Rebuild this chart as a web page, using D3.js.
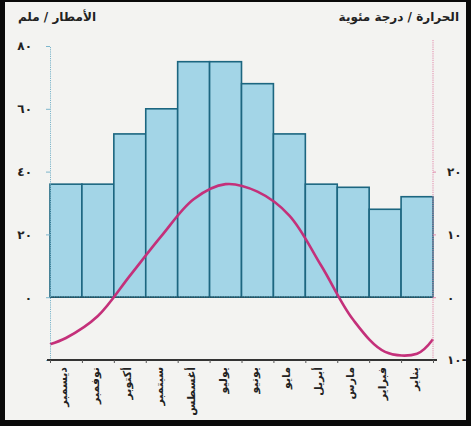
<!DOCTYPE html>
<html lang="ar">
<head>
<meta charset="UTF-8">
<title>Climate chart</title>
<style>
body { margin: 0; background: #000; }
text { font-family: "DejaVu Sans", sans-serif; font-weight: bold; fill: #222; }
.axis text { font-size: 12px; }
</style>
</head>
<body>
<script src="https://d3js.org/d3.v7.min.js"></script>
<script>
// months from left to right (read right-to-left: January at the right)
var months = ["ديسمبر", "نوفمبر", "أكتوبر", "سبتمبر", "أغسطس", "يوليو", "يونيو", "مايو", "أبريل", "مارس", "فبراير", "يناير"];
// rainfall, mm
var rain = [36, 36, 52, 60, 75, 75, 68, 52, 36, 35, 28, 32];
// mean temperature, degrees C
var temp = [-6.5, -3, 3.4, 9.8, 15.6, 18, 16.8, 13, 5, -3.6, -8.7, -9];
// curve values where it meets the left and right axes
var tempEdges = [-7.5, -6.7];
var rainTicks = [0, 20, 40, 60, 80];
var tempTicks = [-10, 0, 10, 20];

var width = 471, height = 426;
var mLeft = 50, mRight = 433, mTop = 46, mBottom = 360;

var svg = d3.select("body").append("svg")
    .attr("width", width)
    .attr("height", height)
    .style("display", "block");

// black frame + paper
svg.append("rect").attr("width", width).attr("height", height).attr("fill", "#0a0a0a");
svg.append("rect").attr("x", 5).attr("y", 2).attr("width", 461).attr("height", 418).attr("fill", "#f3f3f1");

var x = d3.scaleBand().domain(months).range([mLeft, mRight]).padding(0);
var xi = d3.scaleLinear().domain([0, 12]).range([mLeft, mRight]);
var yRain = d3.scaleLinear().domain([-20, 80]).range([mBottom, mTop]);
var yTemp = d3.scaleLinear().domain([-10, 40]).range([mBottom, mTop]);

function arabic(n) {
  var s = String(Math.abs(n)).replace(/[0-9]/g, function(c) { return String.fromCharCode(0x0660 + (+c)); });
  return n < 0 ? s + "-" : s;
}

// bars
svg.append("g").selectAll("rect")
  .data(rain)
  .enter().append("rect")
    .attr("x", function(d, i) { return x(months[i]); })
    .attr("y", function(d) { return yRain(d); })
    .attr("width", x.bandwidth())
    .attr("height", function(d) { return yRain(0) - yRain(d); })
    .attr("fill", "#a3d5e7")
    .attr("stroke", "#1c6680")
    .attr("stroke-width", 1.6);

// zero line
svg.append("line")
    .attr("x1", mLeft).attr("x2", mRight)
    .attr("y1", yRain(0)).attr("y2", yRain(0))
    .attr("stroke", "#2a4f5c")
    .attr("stroke-width", 1.4)
    .attr("stroke-dasharray", "1.5,1");

// temperature curve
var pts = [[0, tempEdges[0]]];
temp.forEach(function(t, i) { pts.push([i + 0.5, t]); });
pts.push([12, tempEdges[1]]);

svg.append("path")
    .datum(pts)
    .attr("fill", "none")
    .attr("stroke", "#c4307a")
    .attr("stroke-width", 2.6)
    .attr("d", d3.line()
      .curve(d3.curveCatmullRom.alpha(0.5))
      .x(function(d) { return xi(d[0]); })
      .y(function(d) { return yTemp(d[1]); }));

// left axis (rain)
var gl = svg.append("g")
    .attr("class", "axis")
    .attr("transform", "translate(" + mLeft + ",0)")
    .call(d3.axisLeft(yRain).tickValues(rainTicks).tickSize(4).tickPadding(14).tickFormat(arabic));
gl.select(".domain").attr("stroke", "#7db6cc").attr("stroke-dasharray", "1.2,1");
gl.selectAll(".tick line").attr("stroke", "#7db6cc");

// right axis (temperature)
var gr = svg.append("g")
    .attr("class", "axis")
    .attr("transform", "translate(" + mRight + ",0)")
    .call(d3.axisRight(yTemp).tickValues(tempTicks).tickSize(3).tickPadding(11).tickFormat(arabic));
gr.select(".domain").attr("stroke", "#e089aa").attr("stroke-dasharray", "1.2,1")
    .attr("d", "M0," + (mTop - 6) + "V" + mBottom);
gr.selectAll(".tick line").attr("stroke", "#e089aa");
gr.selectAll(".tick text").attr("direction", "ltr");

// bottom axis
var gb = svg.append("g")
    .attr("transform", "translate(0," + mBottom + ")")
    .call(d3.axisBottom(xi).tickValues(d3.range(0, 13)).tickSize(3).tickFormat(""));
gb.select(".domain").attr("stroke", "#333").attr("stroke-width", 2.2).attr("d", "M" + (mLeft - 3) + ",0H" + (mRight + 4));
gb.selectAll(".tick line").attr("stroke", "#555");

// month labels, vertical
svg.append("g").selectAll("text")
  .data(months)
  .enter().append("text")
    .attr("transform", function(d) { return "translate(" + (x(d) + x.bandwidth() / 2 - 2) + "," + (mBottom + 7) + ")rotate(-90)"; })
    .attr("text-anchor", "end")
    .attr("dominant-baseline", "middle")
    .attr("font-size", 11)
    .text(function(d) { return d; });

// titles
svg.append("text")
    .attr("x", 96).attr("y", 21)
    .attr("text-anchor", "end")
    .attr("font-size", 12)
    .text("الأمطار / ملم");
svg.append("text")
    .attr("x", 459).attr("y", 21)
    .attr("text-anchor", "end")
    .attr("font-size", 12)
    .text("الحرارة / درجة مئوية");
</script>
</body>
</html>
